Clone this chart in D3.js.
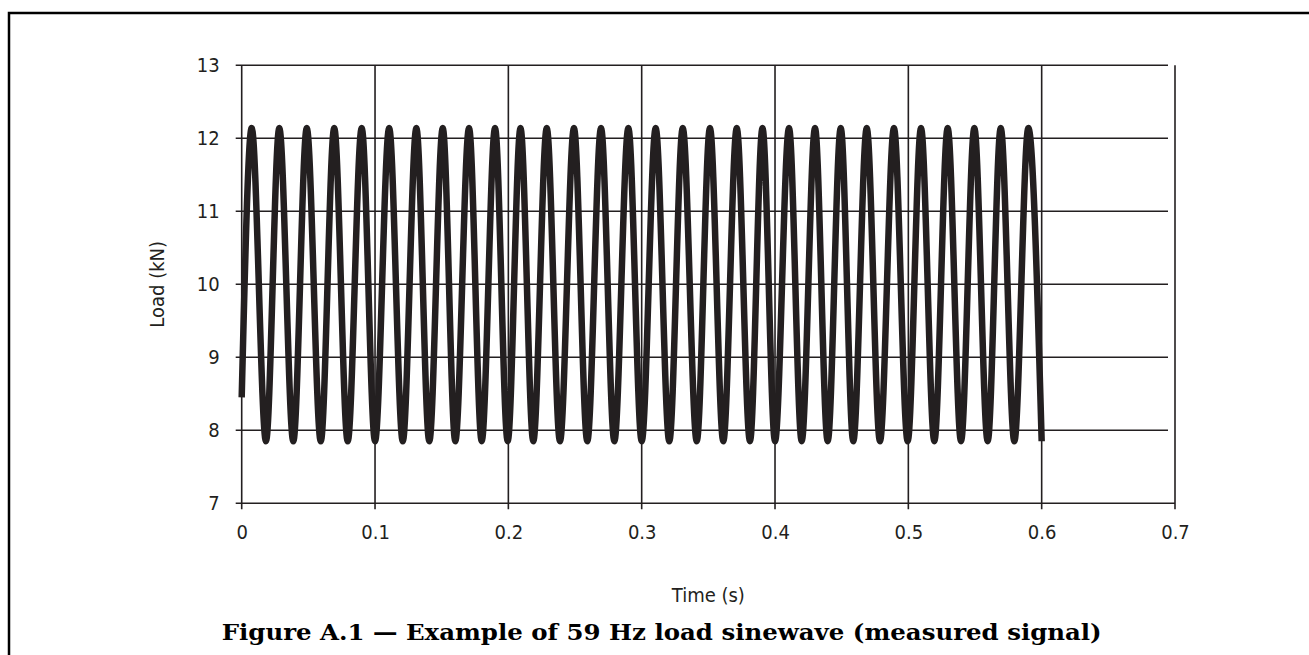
<!DOCTYPE html>
<html>
<head>
<meta charset="utf-8">
<script src="https://cdn.jsdelivr.net/npm/d3@7"></script>
<style>
  html, body { margin: 0; padding: 0; background: #fff; }
  svg { display: block; }
</style>
</head>
<body>
<svg id="chart" width="1309" height="655"></svg>
<script>
// ---- data ----
const times = [0, 0.0075, 0.0182, 0.0282, 0.0387, 0.0488, 0.0593, 0.0694, 0.0795, 0.0900, 0.1000,
  0.1106, 0.1208, 0.1310, 0.1407, 0.1508, 0.1602, 0.1705, 0.1800, 0.1900, 0.1995,
  0.2091, 0.2187, 0.2288, 0.2387, 0.2492, 0.2592, 0.2695, 0.2795, 0.2900, 0.3000,
  0.3105, 0.3207, 0.3308, 0.3413, 0.3512, 0.3612, 0.3713, 0.3812, 0.3906, 0.4000,
  0.4105, 0.4200, 0.4300, 0.4395, 0.4493, 0.4587, 0.4688, 0.4787, 0.4892, 0.4995,
  0.5095, 0.5195, 0.5295, 0.5395, 0.5495, 0.5595, 0.5693, 0.5795, 0.5900, 0.6000];
const loads = [8.45, 12.14, 7.85, 12.14, 7.85, 12.14, 7.85, 12.14, 7.85, 12.14, 7.85,
  12.14, 7.85, 12.14, 7.85, 12.14, 7.85, 12.14, 7.85, 12.14, 7.85,
  12.14, 7.85, 12.14, 7.85, 12.14, 7.85, 12.14, 7.85, 12.14, 7.85,
  12.14, 7.85, 12.14, 7.85, 12.14, 7.85, 12.14, 7.85, 12.14, 7.85,
  12.14, 7.85, 12.14, 7.85, 12.14, 7.85, 12.14, 7.85, 12.14, 7.85,
  12.14, 7.85, 12.14, 7.85, 12.14, 7.85, 12.14, 7.85, 12.14, 7.85];
const xTicks = [0, 0.1, 0.2, 0.3, 0.4, 0.5, 0.6, 0.7];
const yTicks = [7, 8, 9, 10, 11, 12, 13];
const xTitle = "Time (s)";
const yTitle = "Load (kN)";
const caption = "Figure A.1 \u2014 Example of 59 Hz load sinewave (measured signal)";

// ---- layout ----
const svg = d3.select("#chart");
const pLeft = 241.7, pRight = 1175, pTop = 65.3, pBottom = 503.3;
const x = d3.scaleLinear().domain([0, 0.7]).range([pLeft, pRight]);
const y = d3.scaleLinear().domain([7, 13]).range([pBottom, pTop]);
const ink = "#231f20";
const font = "'DejaVu Sans Condensed', 'DejaVu Sans', sans-serif";

// outer frame
svg.append("rect").attr("x", 9).attr("y", 13).attr("width", 1400).attr("height", 700)
  .attr("fill", "none").attr("stroke", "#000").attr("stroke-width", 2.5);

const grid = svg.append("g").attr("stroke", ink).attr("stroke-width", 1.6).attr("fill", "none");
// horizontal grid lines (with outward tick on the left)
grid.selectAll("line.h").data(yTicks).join("line").attr("class", "h")
  .attr("x1", pLeft - 6)
  .attr("x2", d => d === 7 ? pRight : pRight - 7)
  .attr("y1", d => y(d)).attr("y2", d => y(d));
// vertical grid lines (with outward tick at bottom)
grid.selectAll("line.v").data(xTicks).join("line").attr("class", "v")
  .attr("x1", d => x(d)).attr("x2", d => x(d))
  .attr("y1", pTop).attr("y2", pBottom + 6);

// tick labels via d3 axes (no lines)
const gx = svg.append("g").attr("transform", `translate(0,${pBottom})`)
  .call(d3.axisBottom(x).tickValues(xTicks).tickSize(0).tickPadding(22)
    .tickFormat(d => d === 0 ? "0" : d3.format(".1f")(d)));
const gy = svg.append("g").attr("transform", `translate(${pLeft},0)`)
  .call(d3.axisLeft(y).tickValues(yTicks).tickSize(0).tickPadding(22).tickFormat(d3.format("d")));
[gx, gy].forEach(g => {
  g.select(".domain").remove();
  g.selectAll("text").attr("font-family", font).attr("font-size", 20).attr("fill", ink);
});

// sine trace
const pts = times.map((t, i) => [t, loads[i]]);
svg.append("path").datum(pts)
  .attr("fill", "none").attr("stroke", ink).attr("stroke-width", 6.5)
  .attr("stroke-linejoin", "round")
  .attr("d", d3.line().x(d => x(d[0])).y(d => y(d[1])).curve(d3.curveMonotoneX));

// axis titles
svg.append("text").attr("x", (pLeft + pRight) / 2).attr("y", 602)
  .attr("text-anchor", "middle").attr("font-family", font).attr("font-size", 20).attr("fill", ink)
  .text(xTitle);
svg.append("text").attr("transform", `translate(164,${(pTop + pBottom) / 2}) rotate(-90)`)
  .attr("text-anchor", "middle").attr("font-family", font).attr("font-size", 20).attr("fill", ink)
  .text(yTitle);

// caption
svg.append("text").attr("x", 661.7).attr("y", 640)
  .attr("text-anchor", "middle").attr("font-family", "'DejaVu Serif', 'Liberation Serif', serif")
  .attr("font-weight", "bold").attr("font-size", 23).attr("fill", "#000")
  .attr("textLength", 880).attr("lengthAdjust", "spacingAndGlyphs")
  .text(caption);
</script>
</body>
</html>
